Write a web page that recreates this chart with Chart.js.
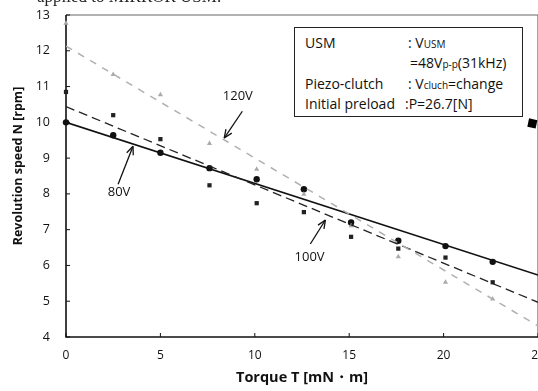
<!DOCTYPE html>
<html>
<head>
<meta charset="utf-8">
<script src="https://cdn.jsdelivr.net/npm/chart.js@4.4.1/dist/chart.umd.min.js"></script>
<style>
  html, body { margin: 0; padding: 0; background: #fff; }
  #wrap { position: relative; width: 538px; height: 391px; overflow: hidden; }
  #cut { position: absolute; left: 37px; top: -13px; font: 17px "Liberation Serif", serif; color: #222; white-space: nowrap; }
  #box { position: absolute; left: 294px; top: 27px; width: 229px; height: 90px; border: 1px solid #222; background: #fff;
         font: 14px "Open Sans", sans-serif; color: #111; box-sizing: border-box; }
  #box div { position: absolute; white-space: nowrap; }
  .s { font-size: 10px; }
</style>
</head>
<body>
<div id="wrap">
  <div id="cut">applied to MIRROR USM.</div>
  <canvas id="c" width="544" height="391"></canvas>
  <div id="box">
    <div style="left:10px;top:5px">USM</div>
    <div style="left:113px;top:5px">: V<span class="s">USM</span></div>
    <div style="left:115px;top:25px">=48V<span class="s">p-p</span>(31kHz)</div>
    <div style="left:10px;top:46px">Piezo-clutch</div>
    <div style="left:113px;top:46px">: V<span class="s">cluch</span>=change</div>
    <div style="left:10px;top:66px">Initial preload</div>
    <div style="left:110px;top:66px">:P=26.7[N]</div>
  </div>
</div>
<script>
// torque [mN·m]
const torque = [0, 2.5, 5, 7.6, 10.1, 12.6, 15.1, 17.6, 20.1, 22.6];
// revolution speed [rpm]
const speed80 = [10.0, 9.64, 9.15, 8.72, 8.41, 8.13, 7.2, 6.69, 6.54, 6.10];
const speed100 = [10.85, 10.2, 9.53, 8.24, 7.74, 7.49, 6.80, 6.47, 6.22, 5.53];
const speed120 = [12.77, 11.34, 10.77, 9.41, 8.69, 7.99, 7.11, 6.24, 5.53, 5.06];
// fitted lines, end points at T=0 and T=25
const fitX = [0, 25];
const fit80 = [10.0, 5.73];
const fit100 = [10.44, 4.97];
const fit120 = [12.13, 4.31];
// stray mark on the right frame
const stray = [{ x: 24.7, y: 9.97 }];

const xTicks = [0, 5, 10, 15, 20, 25];
const yTicks = [4, 5, 6, 7, 8, 9, 10, 11, 12, 13];

// labels with arrows: text point, arrow tail, arrow head (data coords)
const notes = [
  { text: '120V', at: [9.1, 10.72], from: [9.34, 10.31], to: [8.38, 9.56] },
  { text: '80V', at: [2.81, 8.05], from: [2.76, 8.27], to: [3.55, 9.33] },
  { text: '100V', at: [12.9, 6.23], from: [12.94, 6.6], to: [13.74, 7.27] }
];

const pts = ys => torque.map((t, i) => ({ x: t, y: ys[i] }));
const fit = ys => fitX.map((t, i) => ({ x: t, y: ys[i] }));

const frame = {
  id: 'frame',
  beforeDatasetsDraw(chart) {
    const { ctx, chartArea: a, scales: { x, y } } = chart;
    ctx.save();
    ctx.strokeStyle = '#666';
    ctx.lineWidth = 1.2;
    ctx.beginPath();
    ctx.moveTo(a.left, a.top); ctx.lineTo(a.right, a.top); ctx.lineTo(a.right, a.bottom);
    ctx.stroke();
    ctx.strokeStyle = '#111';
    ctx.lineWidth = 1.6;
    ctx.beginPath();
    ctx.moveTo(a.left, a.top); ctx.lineTo(a.left, a.bottom); ctx.lineTo(a.right, a.bottom);
    ctx.stroke();
    ctx.lineWidth = 1;
    ctx.beginPath();
    xTicks.forEach(v => { const p = x.getPixelForValue(v); ctx.moveTo(p, a.bottom); ctx.lineTo(p, a.bottom - 4); });
    yTicks.forEach(v => { const p = y.getPixelForValue(v); ctx.moveTo(a.left, p); ctx.lineTo(a.left + 4, p); });
    ctx.stroke();
    ctx.restore();
  },
  afterDraw(chart) {
    const { ctx, scales: { x, y } } = chart;
    ctx.save();
    ctx.fillStyle = '#111';
    ctx.strokeStyle = '#111';
    // y axis title
    ctx.font = 'bold 12.5px "Open Sans", sans-serif';
    ctx.textAlign = 'center';
    ctx.textBaseline = 'middle';
    ctx.translate(18, 166);
    ctx.rotate(-Math.PI / 2);
    ctx.fillText('Revolution speed N [rpm]', 0, 0);
    ctx.setTransform(1, 0, 0, 1, 0, 0);

    ctx.font = '13px "Open Sans", sans-serif';
    notes.forEach(n => {
      ctx.fillText(n.text, x.getPixelForValue(n.at[0]), y.getPixelForValue(n.at[1]));
      const x1 = x.getPixelForValue(n.from[0]), y1 = y.getPixelForValue(n.from[1]);
      const x2 = x.getPixelForValue(n.to[0]), y2 = y.getPixelForValue(n.to[1]);
      ctx.lineWidth = 1.3;
      ctx.beginPath(); ctx.moveTo(x1, y1); ctx.lineTo(x2, y2); ctx.stroke();
      const ang = Math.atan2(y2 - y1, x2 - x1);
      ctx.beginPath();
      ctx.moveTo(x2, y2);
      ctx.lineTo(x2 - 9 * Math.cos(ang - 0.4), y2 - 9 * Math.sin(ang - 0.4));
      ctx.moveTo(x2, y2);
      ctx.lineTo(x2 - 9 * Math.cos(ang + 0.4), y2 - 9 * Math.sin(ang + 0.4));
      ctx.stroke();
    });
    ctx.restore();
  }
};

new Chart(document.getElementById('c'), {
  type: 'scatter',
  data: {
    datasets: [
      { data: fit(fit120), showLine: true, borderColor: '#b0b0b0', borderWidth: 1.5, borderDash: [7, 7], pointRadius: 0 },
      { data: fit(fit100), showLine: true, borderColor: '#222', borderWidth: 1.3, borderDash: [9, 5], pointRadius: 0 },
      { data: fit(fit80), showLine: true, borderColor: '#111', borderWidth: 1.6, pointRadius: 0 },
      { data: pts(speed120), pointStyle: 'triangle', pointRadius: 3, backgroundColor: '#aaa', borderColor: '#aaa', borderWidth: 0, clip: false },
      { data: pts(speed100), pointStyle: 'rect', pointRadius: 3, backgroundColor: '#222', borderColor: '#222', borderWidth: 0, clip: false },
      { data: pts(speed80), pointStyle: 'circle', pointRadius: 3.2, backgroundColor: '#111', borderColor: '#111', borderWidth: 0, clip: false },
      { data: stray, pointStyle: 'rect', pointRadius: 6, rotation: 12, backgroundColor: '#000', borderColor: '#000', borderWidth: 0, clip: false }
    ]
  },
  options: {
    responsive: false,
    animation: false,
    layout: { padding: { top: 15, right: 0, left: 0, bottom: 0 } },
    plugins: { legend: { display: false }, tooltip: { enabled: false } },
    scales: {
      x: {
        type: 'linear', min: 0, max: 25,
        afterBuildTicks: s => { s.ticks = xTicks.map(v => ({ value: v })); },
        afterFit: s => { s.height = 54; s.paddingLeft = 0; s.paddingRight = 0; },
        grid: { display: false, drawTicks: false },
        border: { display: false },
        ticks: { padding: 11, color: '#111', font: { family: 'Open Sans', size: 12 } },
        title: { display: true, text: 'Torque T [mN・m]', color: '#111', padding: { top: 2 }, font: { family: 'Open Sans', size: 14.5, weight: 'bold' } }
      },
      y: {
        type: 'linear', min: 4, max: 13,
        afterBuildTicks: s => { s.ticks = yTicks.map(v => ({ value: v })); },
        afterFit: s => { s.width = 66; s.paddingTop = 0; s.paddingBottom = 0; },
        grid: { display: false, drawTicks: false },
        border: { display: false },
        ticks: { padding: 16, color: '#111', font: { family: 'Open Sans', size: 12.5 } },
        title: { display: false }
      }
    }
  },
  plugins: [frame]
});
</script>
</body>
</html>
